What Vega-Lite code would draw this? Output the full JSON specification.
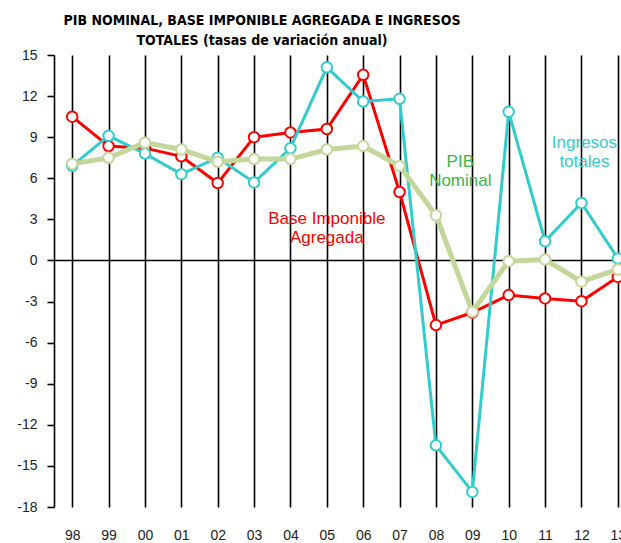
{
  "$schema": "https://vega.github.io/schema/vega-lite/v6.json",
  "width": 582,
  "height": 452,
  "autosize": "none",
  "padding": {"left": 54, "top": 55, "right": 0, "bottom": 36},
  "background": "white",
  "title": {
    "text": ["PIB NOMINAL, BASE IMPONIBLE AGREGADA E INGRESOS", "TOTALES (tasas de variación anual)"],
    "font": "DejaVu Sans Condensed, DejaVu Sans",
    "fontSize": 14,
    "fontWeight": "bold",
    "color": "black",
    "anchor": "middle",
    "frame": "group",
    "dx": -83,
    "offset": 0,
    "lineHeight": 20.5
  },
  "config": {
    "view": {"stroke": null},
    "axis": {"labelFont": "Liberation Sans", "labelFontSize": 14, "labelColor": "#222222"}
  },
  "datasets": {
    "series": [
      {"year": "98", "series": "Base", "value": 10.5},
      {"year": "99", "series": "Base", "value": 8.35},
      {"year": "00", "series": "Base", "value": 8.2},
      {"year": "01", "series": "Base", "value": 7.6},
      {"year": "02", "series": "Base", "value": 5.65},
      {"year": "03", "series": "Base", "value": 9.0},
      {"year": "04", "series": "Base", "value": 9.35},
      {"year": "05", "series": "Base", "value": 9.6},
      {"year": "06", "series": "Base", "value": 13.55},
      {"year": "07", "series": "Base", "value": 5.0},
      {"year": "08", "series": "Base", "value": -4.72},
      {"year": "09", "series": "Base", "value": -3.8},
      {"year": "10", "series": "Base", "value": -2.53},
      {"year": "11", "series": "Base", "value": -2.77},
      {"year": "12", "series": "Base", "value": -2.97},
      {"year": "13", "series": "Base", "value": -1.2},
      {"year": "98", "series": "Ingresos", "value": 6.9},
      {"year": "99", "series": "Ingresos", "value": 9.1},
      {"year": "00", "series": "Ingresos", "value": 7.8},
      {"year": "01", "series": "Ingresos", "value": 6.3},
      {"year": "02", "series": "Ingresos", "value": 7.5},
      {"year": "03", "series": "Ingresos", "value": 5.7},
      {"year": "04", "series": "Ingresos", "value": 8.2},
      {"year": "05", "series": "Ingresos", "value": 14.1},
      {"year": "06", "series": "Ingresos", "value": 11.6},
      {"year": "07", "series": "Ingresos", "value": 11.8},
      {"year": "08", "series": "Ingresos", "value": -13.5},
      {"year": "09", "series": "Ingresos", "value": -16.9},
      {"year": "10", "series": "Ingresos", "value": 10.85},
      {"year": "11", "series": "Ingresos", "value": 1.4},
      {"year": "12", "series": "Ingresos", "value": 4.2},
      {"year": "13", "series": "Ingresos", "value": 0.15},
      {"year": "98", "series": "PIB", "value": 7.05},
      {"year": "99", "series": "PIB", "value": 7.5},
      {"year": "00", "series": "PIB", "value": 8.6},
      {"year": "01", "series": "PIB", "value": 8.1},
      {"year": "02", "series": "PIB", "value": 7.2},
      {"year": "03", "series": "PIB", "value": 7.4},
      {"year": "04", "series": "PIB", "value": 7.4},
      {"year": "05", "series": "PIB", "value": 8.1},
      {"year": "06", "series": "PIB", "value": 8.35},
      {"year": "07", "series": "PIB", "value": 6.9},
      {"year": "08", "series": "PIB", "value": 3.3},
      {"year": "09", "series": "PIB", "value": -3.75},
      {"year": "10", "series": "PIB", "value": -0.05},
      {"year": "11", "series": "PIB", "value": 0.07},
      {"year": "12", "series": "PIB", "value": -1.55},
      {"year": "13", "series": "PIB", "value": -0.66}
    ],
    "labels": [
      {"year": "05", "value": 3.0, "series": "Base", "text": ["Base Imponible", "Agregada"]},
      {"year": "09", "value": 7.17, "series": "PIB", "text": ["PIB", "Nominal"]},
      {"year": "12", "value": 8.54, "series": "Ingresos", "text": ["Ingresos", "totales"]}
    ],
    "zero": [{"value": 0}]
  },
  "data": {"name": "series"},
  "encoding": {
    "x": {
      "field": "year", "type": "ordinal",
      "sort": ["98","99","00","01","02","03","04","05","06","07","08","09","10","11","12","13"],
      "scale": {"paddingInner": 0, "paddingOuter": 0},
      "axis": {"title": null, "domain": false, "ticks": false, "labelPadding": 21, "labelAngle": 0,
               "grid": true, "bandPosition": 0, "gridColor": "black", "gridWidth": 1.6, "gridOpacity": 1}
    },
    "y": {
      "field": "value", "type": "quantitative",
      "scale": {"domain": [-18, 15], "nice": false, "zero": false},
      "axis": {"title": null, "values": [-18,-15,-12,-9,-6,-3,0,3,6,9,12,15], "grid": false,
               "labelExpr": "datum.value < 0 ? '-' + abs(datum.value) : '' + datum.value",
               "domainColor": "black", "domainWidth": 1.6, "tickColor": "black", "tickWidth": 1.6, "tickSize": 7,
               "labelPadding": 10}
    }
  },
  "layer": [
    {"data": {"name": "zero"}, "mark": {"type": "rule", "color": "black", "strokeWidth": 1.6},
     "encoding": {"x": null, "y": {"field": "value", "type": "quantitative"}}},
    {"transform": [{"filter": "datum.series === 'Base'"}],
     "mark": {"type": "line", "color": "#ff0000", "strokeWidth": 3}},
    {"transform": [{"filter": "datum.series === 'Base'"}],
     "mark": {"type": "point", "shape": "circle", "filled": true, "fill": "white", "stroke": "#ff0000", "strokeWidth": 2, "size": 110, "opacity": 1}},
    {"transform": [{"filter": "datum.series === 'Ingresos'"}],
     "mark": {"type": "line", "color": "#33cccc", "strokeWidth": 3}},
    {"transform": [{"filter": "datum.series === 'Ingresos'"}],
     "mark": {"type": "point", "shape": "circle", "filled": true, "fill": "white", "stroke": "#33cccc", "strokeWidth": 2, "size": 110, "opacity": 1}},
    {"transform": [{"filter": "datum.series === 'PIB'"}],
     "mark": {"type": "line", "color": "#c4d79b", "strokeWidth": 5}},
    {"transform": [{"filter": "datum.series === 'PIB'"}],
     "mark": {"type": "point", "shape": "circle", "filled": true, "fill": "white", "stroke": "#c4d79b", "strokeWidth": 2, "size": 110, "opacity": 1}},
    {"data": {"name": "labels"}, "transform": [{"filter": "datum.series === 'Base'"}],
     "mark": {"type": "text", "font": "Liberation Sans", "fontSize": 17, "color": "#ff0000", "lineHeight": 19, "baseline": "middle", "align": "center"},
     "encoding": {"text": {"field": "text"}}},
    {"data": {"name": "labels"}, "transform": [{"filter": "datum.series === 'PIB'"}],
     "mark": {"type": "text", "font": "Liberation Sans", "fontSize": 17, "color": "#3cb44b", "lineHeight": 19, "baseline": "middle", "align": "center", "dx": -12},
     "encoding": {"text": {"field": "text"}}},
    {"data": {"name": "labels"}, "transform": [{"filter": "datum.series === 'Ingresos'"}],
     "mark": {"type": "text", "font": "Liberation Sans", "fontSize": 17, "color": "#33cccc", "lineHeight": 19, "baseline": "middle", "align": "center", "dx": 3},
     "encoding": {"text": {"field": "text"}}}
  ]
}
